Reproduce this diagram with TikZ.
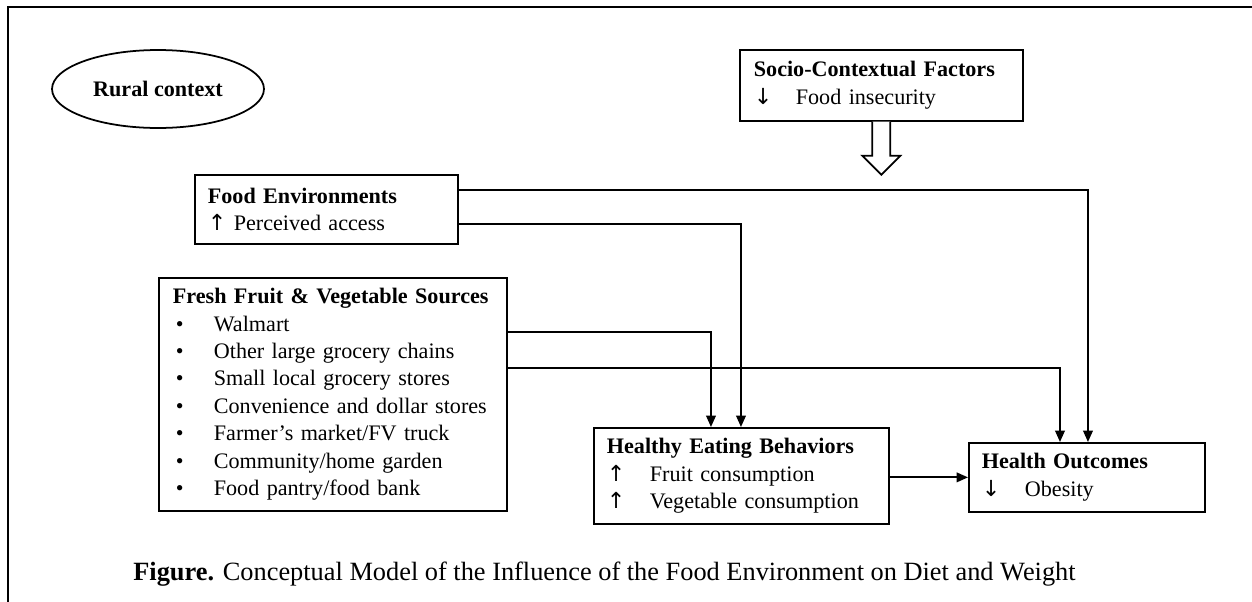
\documentclass[tikz,border=0pt]{standalone}
\usepackage{fontspec}
\setmainfont{Liberation Serif}
\newfontfamily\arrfont{DejaVu Sans}
\usetikzlibrary{shapes.geometric,arrows.meta}
\newcommand\uparr{{\arrfont ↑}}
\newcommand\dnarr{{\arrfont ↓}}
\tikzset{
  box/.style={draw, line width=1pt, align=left, anchor=north west, inner ysep=0pt,
    font=\fontsize{12.6}{15.6}\selectfont},
  arr/.style={line width=1pt, -{Triangle[length=6.5pt,width=5.5pt]}},
  frame/.style={line width=1.4pt},
  hollow/.style={line width=1pt, line join=miter, fill=white}
}
\begin{document}
\begin{tikzpicture}[x=0.02cm, y=-0.02cm]
\useasboundingbox (0,0) rectangle (1252,602);
% frame
\draw[frame] (8,602) -- (8,7) -- (1252,7);

% context ellipse
\node[draw, ellipse, line width=1pt, minimum width=4.24cm, minimum height=1.56cm,
      font=\fontsize{12.6}{15.6}\selectfont\bfseries] (rc) at (158,89) {Rural context};

% boxes
\node[box, inner xsep=0.28cm, text width=5.1cm, minimum height=1.42cm] (sc) at (739,49)
  {\textbf{Socio-Contextual Factors}\\\makebox[0.84cm][l]{\dnarr}Food insecurity};

\node[box, inner xsep=0.26cm, text width=4.74cm, minimum height=1.38cm] (fe) at (194,174)
  {\textbf{Food Environments}\\\uparr{} Perceived access};

\node[box, inner xsep=0.28cm, text width=6.4cm, minimum height=4.66cm] (ff) at (158,277)
  {\textbf{Fresh Fruit \& Vegetable Sources}\\
   \hspace*{0.06cm}\makebox[0.76cm][l]{•}Walmart\\
   \hspace*{0.06cm}\makebox[0.76cm][l]{•}Other large grocery chains\\
   \hspace*{0.06cm}\makebox[0.76cm][l]{•}Small local grocery stores\\
   \hspace*{0.06cm}\makebox[0.76cm][l]{•}Convenience and dollar stores\\
   \hspace*{0.06cm}\makebox[0.76cm][l]{•}Farmer’s market/FV truck\\
   \hspace*{0.06cm}\makebox[0.76cm][l]{•}Community/home garden\\
   \hspace*{0.06cm}\makebox[0.76cm][l]{•}Food pantry/food bank};

\node[box, inner xsep=0.26cm, text width=5.38cm, minimum height=1.92cm] (he) at (593,427)
  {\textbf{Healthy Eating Behaviors}\\\makebox[0.86cm][l]{\uparr}Fruit consumption\\\makebox[0.86cm][l]{\uparr}Vegetable consumption};

\node[box, inner xsep=0.26cm, text width=4.2cm, minimum height=1.38cm] (ho) at (968,442)
  {\textbf{Health Outcomes}\\\makebox[0.86cm][l]{\dnarr}Obesity};

% hollow arrow from socio-contextual factors
\draw[hollow] ([xshift=-0.18cm]sc.south) -- ++(0,34) -- ++(-10,0) -- ++(19,19)
  -- ++(19,-19) -- ++(-10,0) -- ++(0,-34);

% connectors
\draw[arr] ([yshift=-0.32cm]fe.north east) -| ([xshift=2.4cm]ho.north west);
\draw[arr] ([yshift=-1.0cm]fe.north east) -| ([xshift=2.96cm]he.north west);
\draw[arr] ([yshift=-1.1cm]ff.north east) -| ([xshift=2.36cm]he.north west);
\draw[arr] ([yshift=-1.82cm]ff.north east) -| ([xshift=1.84cm]ho.north west);
\draw[arr] (he.east |- ho.west) -- (ho.west);

% caption
\node[anchor=base west, inner sep=0pt, font=\fontsize{15}{18}\selectfont] (cap) at (133,580)
  {\textbf{Figure.} Conceptual Model of the Influence of the Food Environment on Diet and Weight};
\end{tikzpicture}
\end{document}
